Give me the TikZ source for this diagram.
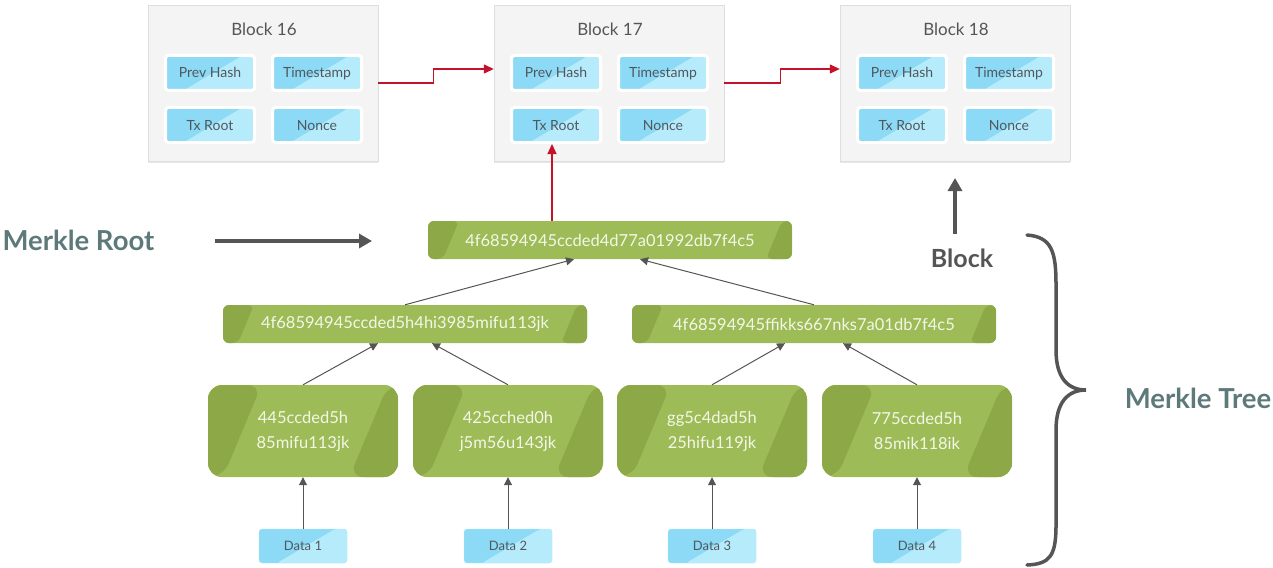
\documentclass[tikz,border=0pt]{standalone}
\usepackage{fontspec}
\setmainfont{Lato}
\usepackage{tikz}
\usetikzlibrary{arrows.meta,calc,shadows}
\definecolor{blockgray}{RGB}{244,244,244}
\definecolor{blockline}{RGB}{222,222,222}
\definecolor{cellblue}{RGB}{140,218,245}
\definecolor{celllight}{RGB}{182,235,252}
\definecolor{celltext}{RGB}{80,88,94}
\definecolor{greenmain}{RGB}{157,187,86}
\definecolor{greendark}{RGB}{141,169,71}
\definecolor{greentext}{RGB}{244,247,232}
\definecolor{slate}{RGB}{94,121,122}
\definecolor{darkgray}{RGB}{85,85,85}
\definecolor{chainred}{RGB}{196,18,42}

\begin{document}
\begin{tikzpicture}[
  x=1pt, y=-1pt,
  block/.style={draw=blockline, fill=blockgray, minimum width=230pt, minimum height=156pt,
    drop shadow={opacity=0.18, shadow xshift=0pt, shadow yshift=-2pt}},
  blocktitle/.style={text=darkgray, font=\fontsize{17}{20}\selectfont},
  cellshade/.style={path picture={
    \path let \p1=(path picture bounding box.south west), \p2=(path picture bounding box.north east) in
      [fill=celllight] (\x1+18pt,\y1) -- (\x2,\y1) -- (\x2,\y2) -- (\x2-12pt,\y2) -- cycle;}},
  cell/.style={draw=white, line width=3pt, rounded corners=3pt, fill=cellblue, cellshade,
    minimum width=89pt, minimum height=35pt, text height=11.5pt, text depth=1.5pt,
    text=celltext, font=\fontsize{14}{16}\selectfont},
  datum/.style={draw=celllight, thin, rounded corners=3pt, fill=cellblue, cellshade,
    minimum width=88pt, minimum height=34pt, text height=10.5pt, text depth=1pt,
    text=celltext, font=\fontsize{13}{15}\selectfont},
  greenband/.style={path picture={
    \path let \p1=(path picture bounding box.south west), \p2=(path picture bounding box.north east) in
      [fill=greendark] (\x1,\y1) -- (\x1+15pt,\y1) -- (\x1+15pt+0.42*\y2-0.42*\y1,\y2) -- (\x1,\y2) -- cycle
      [fill=greendark] (\x2,\y1) -- (\x2-10pt-0.42*\y2+0.42*\y1,\y1) -- (\x2-10pt,\y2) -- (\x2,\y2) -- cycle;}},
  hashbar/.style={rounded corners=6pt, fill=greenmain, greenband, minimum width=364pt, minimum height=38pt,
    text=greentext, font=\fontsize{16.5}{19}\selectfont},
  leaf/.style={rounded corners=14pt, fill=greenmain, greenband, minimum width=190pt, minimum height=92pt,
    align=center, text=greentext, font=\fontsize{16.5}{25}\selectfont},
  biglabel/.style={font=\bfseries\fontsize{27.5}{30}\selectfont, text=slate},
  arrow/.style={-{Triangle[length=8pt,width=8pt]}, draw=darkgray, line width=1pt},
  redarrow/.style={-{Triangle[length=10pt,width=9pt]}, draw=chainred, line width=1.3pt},
  bigarrow/.style={-{Triangle[length=13pt,width=14pt]}, draw=darkgray, line width=4pt}
]
\useasboundingbox (0,0) rectangle (1273,567);

% blocks of the chain
\foreach \b/\cx in {16/263,17/609,18/955}{
  \node[block] (b\b) at (\cx,83) {};
  \node[blocktitle] (title\b) at (\cx+1,29) {Block \b};
  \node[cell] (prev\b) at (\cx-53,73) {Prev Hash};
  \node[cell] (time\b) at (\cx+54,73) {Timestamp};
  \node[cell] (tx\b) at (\cx-53,125) {Tx Root};
  \node[cell] (nonce\b) at (\cx+54,125) {Nonce};
}

\draw[redarrow] (b16.east) -- ++(55,0) |- ([yshift=14pt]b17.west);
\draw[redarrow] (b17.east) -- ++(56,0) |- ([yshift=14pt]b18.west);

% merkle tree
\node[hashbar] (root) at (610,240) {4f68594945ccded4d77a01992db7f4c5};
\node[hashbar] (hashL) at (405,324) {4f68594945ccded5h4hi3985mifu113jk};
\node[hashbar] (hashR) at (814,324) {4f68594945ffikks667nks7a01db7f4c5};

\node[leaf] (leaf1) at (303,431) {445ccded5h\\85mifu113jk};
\node[leaf] (leaf2) at (508,431) {425cched0h\\j5m56u143jk};
\node[leaf] (leaf3) at (712,431) {gg5c4dad5h\\25hifu119jk};
\node[leaf] (leaf4) at (917,431) {775ccded5h\\85mik118ik};

\node[datum] (data1) at (303,546) {Data 1};
\node[datum] (data2) at (508,546) {Data 2};
\node[datum] (data3) at (712,546) {Data 3};
\node[datum] (data4) at (917,546) {Data 4};

\foreach \i in {1,...,4}
  \draw[arrow] (data\i.north) -- (leaf\i.south);

\draw[arrow] (leaf1.north) -- ([xshift=-27pt]hashL.south);
\draw[arrow] (leaf2.north) -- ([xshift=27pt]hashL.south);
\draw[arrow] (leaf3.north) -- ([xshift=-29pt]hashR.south);
\draw[arrow] (leaf4.north) -- ([xshift=29pt]hashR.south);
\draw[arrow] (hashL.north) -- ([xshift=-36pt]root.south);
\draw[arrow] (hashR.north) -- ([xshift=30pt]root.south);

\draw[redarrow] ([xshift=-4pt]root.north -| tx17) -- ([xshift=-4pt]tx17.south);

% side labels
\node[biglabel, anchor=west] (mrlabel) at (-1,240) {Merkle Root};
\coordinate (mrtail) at (215,241);
\coordinate (mrhead) at (372,241);
\draw[bigarrow] (mrtail) -- (mrhead);

\node[font=\bfseries\fontsize{25}{28}\selectfont, text=darkgray] (blocklbl) at (962,258) {Block};
\coordinate (blktail) at (955,234);
\coordinate (blkhead) at (955,178);
\draw[bigarrow] (blktail) -- (blkhead);

\coordinate (bracetop) at (1027,235);
\coordinate (bracetip) at (1086,390);
\coordinate (bracebot) at (1027,565);
\draw[darkgray, line width=3.5pt, line cap=round]
  (bracetop) .. controls (1052,237) and (1056,252) .. (1056,285)
  -- (1056,350) .. controls (1056,378) and (1068,390) .. (bracetip)
  .. controls (1068,390) and (1056,402) .. (1056,430)
  -- (1056,525) .. controls (1056,556) and (1050,564) .. (bracebot);
\node[biglabel] (mtlabel) at (1198,398) {Merkle Tree};
\end{tikzpicture}
\end{document}
